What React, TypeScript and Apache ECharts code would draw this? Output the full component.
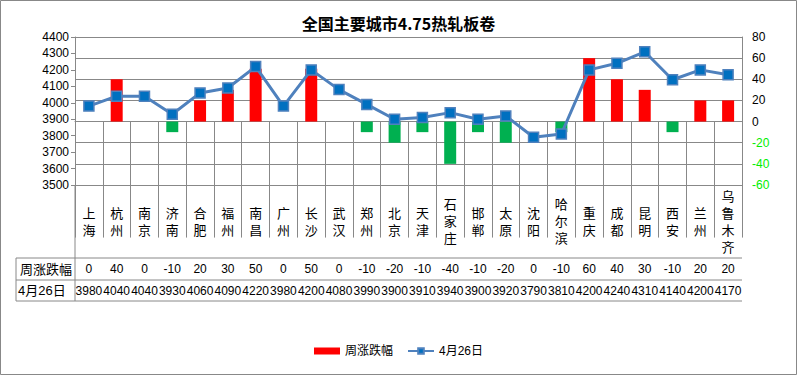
import React, { useEffect, useRef } from "react";
import * as echarts from "echarts";

const cities = ["上海", "杭州", "南京", "济南", "合肥", "福州", "南昌", "广州", "长沙", "武汉", "郑州", "北京", "天津", "石家庄", "邯郸", "太原", "沈阳", "哈尔滨", "重庆", "成都", "昆明", "西安", "兰州", "乌鲁木齐"];
const weeklyChange = [0, 40, 0, -10, 20, 30, 50, 0, 50, 0, -10, -20, -10, -40, -10, -20, 0, -10, 60, 40, 30, -10, 20, 20];
const prices = [3980, 4040, 4040, 3930, 4060, 4090, 4220, 3980, 4200, 4080, 3990, 3900, 3910, 3940, 3900, 3920, 3790, 3810, 4200, 4240, 4310, 4140, 4200, 4170];
const leftTicks = { min: 3500, max: 4400, interval: 100 };
const rightTicks = { min: -60, max: 80, interval: 20 };
const title = "全国主要城市4.75热轧板卷";
const barName = "周涨跌幅";
const lineName = "4月26日";

const FONT = "'Liberation Sans', 'Noto Sans CJK SC', sans-serif";
const GRID = "#888888";

export default function App() {
  const ref = useRef<HTMLDivElement>(null);
  useEffect(() => {
    document.body.style.margin = "0";
    if (!ref.current) return;
    const chart = echarts.init(ref.current, null, { renderer: "svg" });
    const gridLeft = 75;
    const gridRight = 742;
    const gridTop = 37;
    const gridBottom = 185;
    const row1 = 258;
    const row2 = 280;
    const row3 = 301;
    const tableLeft = 16;
    chart.setOption({
      animation: false,
      textStyle: { fontFamily: FONT },
      title: {
        text: title,
        left: "center",
        top: 10,
        textStyle: { fontSize: 16, fontWeight: "bold", color: "#000", fontFamily: "'Noto Sans CJK SC', sans-serif" },
      },
      grid: {
        left: gridLeft,
        top: gridTop,
        width: gridRight - gridLeft,
        height: gridBottom - gridTop,
        outerBoundsMode: "none",
      },
      legend: {
        bottom: 13,
        left: "center",
        itemWidth: 26,
        itemHeight: 7,
        itemGap: 14,
        textStyle: { fontSize: 12, color: "#000", fontFamily: FONT },
        data: [
          { name: barName, icon: "rect", itemStyle: { color: "#ff0000" } },
          { name: lineName },
        ],
      },
      xAxis: [
        {
          type: "category",
          data: cities,
          position: "bottom",
          axisLine: { show: true, lineStyle: { color: GRID } },
          axisTick: { show: true, interval: 0, length: row3 - gridBottom, lineStyle: { color: GRID } },
          axisLabel: {
            interval: 0,
            formatter: (v: string) => v.split("").join("\n"),
            fontSize: 13,
            lineHeight: 17,
            margin: (row1 - gridBottom) / 2,
            verticalAlign: "middle",
            color: "#000",
          },
        },
        {
          type: "category",
          data: cities,
          position: "bottom",
          offset: row1 - gridBottom,
          axisLine: { show: false },
          axisTick: { show: false },
          axisLabel: {
            interval: 0,
            formatter: (_v: string, i: number) => String(weeklyChange[i]),
            fontSize: 12,
            margin: (row2 - row1) / 2,
            verticalAlign: "middle",
            color: "#000",
          },
        },
        {
          type: "category",
          data: cities,
          position: "bottom",
          offset: row2 - gridBottom,
          axisLine: { show: false },
          axisTick: { show: false },
          axisLabel: {
            interval: 0,
            formatter: (_v: string, i: number) => String(prices[i]),
            fontSize: 12,
            margin: (row3 - row2) / 2,
            verticalAlign: "middle",
            color: "#000",
          },
        },
      ],
      yAxis: [
        {
          type: "value",
          position: "left",
          min: leftTicks.min,
          max: leftTicks.max,
          interval: leftTicks.interval,
          splitLine: { show: false },
          axisLine: { show: true, lineStyle: { color: GRID } },
          axisTick: { show: true, length: 4, lineStyle: { color: GRID } },
          axisLabel: { fontSize: 12, color: "#000", margin: 6, formatter: (v: number) => String(v) },
        },
        {
          type: "value",
          position: "right",
          min: rightTicks.min,
          max: rightTicks.max,
          interval: rightTicks.interval,
          splitLine: { show: true, lineStyle: { color: GRID, width: 1 } },
          axisLine: { show: true, lineStyle: { color: GRID } },
          axisTick: { show: false },
          axisLabel: {
            fontSize: 12,
            margin: 10,
            formatter: (v: number) => String(v),
            color: (v: any) => (Number(v) < 0 ? "#00ee00" : "#000"),
          },
        },
      ],
      series: [
        {
          name: barName,
          type: "bar",
          xAxisIndex: 0,
          yAxisIndex: 1,
          barWidth: 12,
          itemStyle: { color: "#ff0000" },
          data: weeklyChange.map((v) => ({
            value: v,
            itemStyle: { color: v < 0 ? "#00b050" : "#ff0000" },
          })),
        },
        {
          name: lineName,
          type: "line",
          xAxisIndex: 0,
          yAxisIndex: 0,
          data: prices,
          symbol: "rect",
          symbolSize: 10,
          lineStyle: { width: 3, color: "#4f81bd" },
          itemStyle: { color: "#0070c0", borderColor: "#4f81bd", borderWidth: 1.5 },
          z: 3,
        },
      ],
      graphic: [
        { type: "rect", shape: { x: 0.5, y: 0.5, width: 796, height: 374 }, style: { fill: "none", stroke: GRID, lineWidth: 1 }, silent: true },
        { type: "line", shape: { x1: tableLeft, y1: row1, x2: gridRight, y2: row1 }, style: { stroke: GRID, lineWidth: 1 } },
        { type: "line", shape: { x1: tableLeft, y1: row2, x2: gridRight, y2: row2 }, style: { stroke: GRID, lineWidth: 1 } },
        { type: "line", shape: { x1: tableLeft, y1: row3, x2: gridRight, y2: row3 }, style: { stroke: GRID, lineWidth: 1 } },
        { type: "line", shape: { x1: tableLeft, y1: row1, x2: tableLeft, y2: row3 }, style: { stroke: GRID, lineWidth: 1 } },
        { type: "line", shape: { x1: gridLeft, y1: gridBottom, x2: gridLeft, y2: row3 }, style: { stroke: GRID, lineWidth: 1 } },
        {
          type: "text",
          x: 20,
          y: (row1 + row2) / 2,
          style: { text: barName, fontSize: 13, fill: "#000", verticalAlign: "middle", fontFamily: FONT },
        },
        {
          type: "text",
          x: 18,
          y: (row2 + row3) / 2,
          style: { text: lineName, fontSize: 13, fill: "#000", verticalAlign: "middle", fontFamily: FONT },
        },
      ],
    });
    return () => chart.dispose();
  }, []);
  return <div ref={ref} style={{ width: 797, height: 375 }} />;
}
